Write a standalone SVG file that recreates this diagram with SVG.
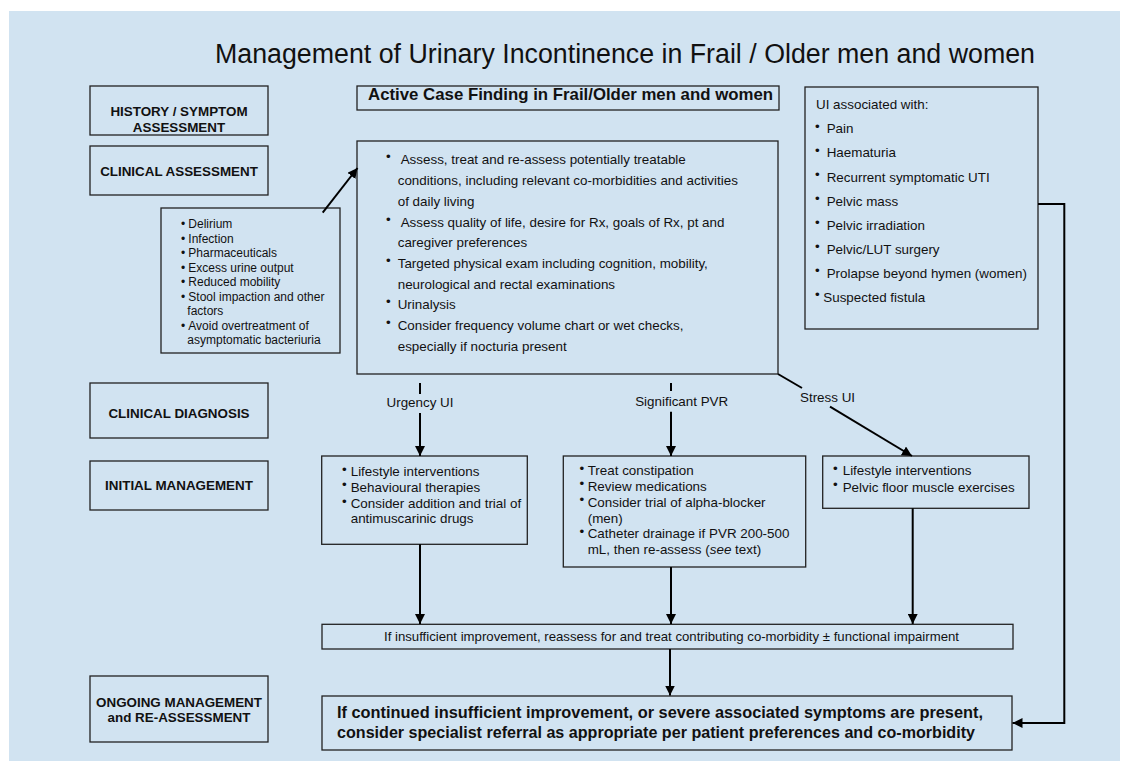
<svg xmlns="http://www.w3.org/2000/svg" width="1128" height="769" viewBox="0 0 1128 769">
  <defs>
    <marker id="ah" markerWidth="10" markerHeight="10" refX="10" refY="5" orient="auto" markerUnits="userSpaceOnUse">
      <path d="M0,0 L10,5 L0,10 z" fill="#000"/>
    </marker>
    <style>
      .box { fill: none; stroke: #222; stroke-width: 1.3; }
      .lbl { font-family: "Liberation Sans", Arial, sans-serif; font-weight: bold; font-size: 13.4px; fill: #111; text-anchor: middle; }
      .t { font-family: "Liberation Sans", Arial, sans-serif; font-size: 13.4px; fill: #111; }
      .s { font-size: 12px; }
      .b { font-weight: bold; }
      .conn { stroke: #000; stroke-width: 2; fill: none; }
    </style>
  </defs>

  <!-- background panel -->
  <rect x="9" y="11" width="1111" height="750" fill="#D1E3F1"/>

  <text class="t" x="625" y="63" text-anchor="middle" textLength="820" lengthAdjust="spacingAndGlyphs" style="font-size:26.8px">Management of Urinary Incontinence in Frail / Older men and women</text>

  <!-- stage labels -->
  <g id="stage-history">
    <rect class="box" x="90" y="86" width="178" height="49"/>
    <text class="lbl" x="179" y="116">HISTORY / SYMPTOM</text>
    <text class="lbl" x="179" y="131.5">ASSESSMENT</text>
  </g>
  <g id="stage-clinical-assessment">
    <rect class="box" x="90" y="146" width="178" height="49"/>
    <text class="lbl" x="179" y="175.5">CLINICAL ASSESSMENT</text>
  </g>
  <g id="stage-clinical-diagnosis">
    <rect class="box" x="90" y="383" width="178" height="55"/>
    <text class="lbl" x="179" y="418">CLINICAL DIAGNOSIS</text>
  </g>
  <g id="stage-initial-management">
    <rect class="box" x="90" y="461" width="178" height="49"/>
    <text class="lbl" x="179" y="490">INITIAL MANAGEMENT</text>
  </g>
  <g id="stage-ongoing">
    <rect class="box" x="90" y="676" width="178" height="66"/>
    <text class="lbl" x="179" y="706.5">ONGOING MANAGEMENT</text>
    <text class="lbl" x="179" y="721.5">and RE-ASSESSMENT</text>
  </g>

  <!-- case finding -->
  <g id="case-finding">
    <rect class="box" x="357" y="86" width="422" height="24"/>
    <text class="t b" x="368" y="100" style="font-size:16.5px" textLength="405" lengthAdjust="spacingAndGlyphs">Active Case Finding in Frail/Older men and women</text>
  </g>

  <!-- main assessment -->
  <g id="assessment">
    <rect class="box" x="357" y="141" width="421" height="233"/>
    <text class="t" x="386" y="161">•</text>
    <text class="t" x="400.7" y="164.3"> Assess, treat and re-assess potentially treatable</text>
    <text class="t" x="397.7" y="185">conditions, including relevant co-morbidities and activities</text>
    <text class="t" x="397.7" y="206">of daily living</text>
    <text class="t" x="386" y="223.5">•</text>
    <text class="t" x="400.7" y="226.7">Assess quality of life, desire for Rx, goals of Rx, pt and</text>
    <text class="t" x="397.7" y="247.3">caregiver preferences</text>
    <text class="t" x="386" y="264.5">•</text>
    <text class="t" x="397.7" y="267.7">Targeted physical exam including cognition, mobility,</text>
    <text class="t" x="397.7" y="288.7">neurological and rectal examinations</text>
    <text class="t" x="386" y="306">•</text>
    <text class="t" x="397.7" y="309.3">Urinalysis</text>
    <text class="t" x="386" y="327">•</text>
    <text class="t" x="397.7" y="330">Consider frequency volume chart or wet checks,</text>
    <text class="t" x="397.7" y="350.7">especially if nocturia present</text>
  </g>

  <!-- transient causes -->
  <g id="transient-causes">
    <rect class="box" x="161" y="208" width="179" height="145"/>
    <g class="t s">
      <text x="181" y="228.3">•</text><text x="188.3" y="228.3">Delirium</text>
      <text x="181" y="242.7">•</text><text x="188.3" y="242.7">Infection</text>
      <text x="181" y="257.3">•</text><text x="188.3" y="257.3">Pharmaceuticals</text>
      <text x="181" y="271.7">•</text><text x="188.3" y="271.7">Excess urine output</text>
      <text x="181" y="286">•</text><text x="188.3" y="286">Reduced mobility</text>
      <text x="181" y="300.7">•</text><text x="188.3" y="300.7">Stool impaction and other</text>
      <text x="187.3" y="315">factors</text>
      <text x="181" y="329.7">•</text><text x="188.3" y="329.7">Avoid overtreatment of</text>
      <text x="187.3" y="344">asymptomatic bacteriuria</text>
    </g>
  </g>

  <!-- red flags -->
  <g id="red-flags">
    <rect class="box" x="805" y="87" width="233" height="242"/>
    <text class="t" x="816" y="109.3">UI associated with:</text>
    <text class="t" x="815" y="131">•</text><text class="t" x="826.7" y="133.3">Pain</text>
    <text class="t" x="815" y="155">•</text><text class="t" x="826.7" y="157.3">Haematuria</text>
    <text class="t" x="815" y="179.4">•</text><text class="t" x="826.7" y="181.7">Recurrent symptomatic UTI</text>
    <text class="t" x="815" y="203.4">•</text><text class="t" x="826.7" y="205.7">Pelvic mass</text>
    <text class="t" x="815" y="227.4">•</text><text class="t" x="826.7" y="229.7">Pelvic irradiation</text>
    <text class="t" x="815" y="251.4">•</text><text class="t" x="826.7" y="253.7">Pelvic/LUT surgery</text>
    <text class="t" x="815" y="275.4">•</text><text class="t" x="826.7" y="277.7">Prolapse beyond hymen (women)</text>
    <text class="t" x="815" y="299.4">•</text><text class="t" x="823.3" y="301.7">Suspected fistula</text>
  </g>

  <!-- initial management boxes -->
  <g id="urgency-management">
    <rect class="box" x="321.7" y="456" width="205.6" height="88.3"/>
    <text class="t" x="342" y="473.5">•</text><text class="t" x="350.7" y="476">Lifestyle interventions</text>
    <text class="t" x="342" y="489.2">•</text><text class="t" x="350.7" y="491.7">Behavioural therapies</text>
    <text class="t" x="342" y="505.8">•</text><text class="t" x="350.7" y="508.3">Consider addition and trial of</text>
    <text class="t" x="350.7" y="523.3">antimuscarinic drugs</text>
  </g>
  <g id="pvr-management">
    <rect class="box" x="563.3" y="456" width="242.4" height="111"/>
    <text class="t" x="579.5" y="472.5">•</text><text class="t" x="587.7" y="475">Treat constipation</text>
    <text class="t" x="579.5" y="488.2">•</text><text class="t" x="587.7" y="490.7">Review medications</text>
    <text class="t" x="579.5" y="504.2">•</text><text class="t" x="587.7" y="506.7">Consider trial of alpha-blocker</text>
    <text class="t" x="587.7" y="522.7">(men)</text>
    <text class="t" x="579.5" y="535.8">•</text><text class="t" x="587.7" y="538.3">Catheter drainage if PVR 200-500</text>
    <text class="t" x="587.7" y="554">mL, then re-assess (<tspan font-style="italic">see</tspan> text)</text>
  </g>
  <g id="stress-management">
    <rect class="box" x="822.7" y="456" width="206.3" height="52.3"/>
    <text class="t" x="833" y="472.5">•</text><text class="t" x="842.7" y="475">Lifestyle interventions</text>
    <text class="t" x="833" y="489.2">•</text><text class="t" x="842.7" y="491.7">Pelvic floor muscle exercises</text>
  </g>

  <!-- reassessment -->
  <g id="reassess">
    <rect class="box" x="322" y="624.3" width="691" height="24.7"/>
    <text class="t" x="671.5" y="641" text-anchor="middle" style="font-size:13.2px">If insufficient improvement, reassess for and treat contributing co-morbidity ± functional impairment</text>
  </g>

  <!-- referral -->
  <g id="referral">
    <rect class="box" x="322" y="696" width="690" height="54"/>
    <text class="t b" x="337" y="718" style="font-size:16px" textLength="646" lengthAdjust="spacingAndGlyphs">If continued insufficient improvement, or severe associated symptoms are present,</text>
    <text class="t b" x="337" y="738" style="font-size:16px" textLength="638" lengthAdjust="spacingAndGlyphs">consider specialist referral as appropriate per patient preferences and co-morbidity</text>
  </g>

  <!-- connectors -->
  <g id="connectors">
    <line class="conn" x1="322.7" y1="212.7" x2="357.5" y2="168" marker-end="url(#ah)"/>

    <line class="conn" x1="420" y1="383" x2="420" y2="394"/>
    <line class="conn" x1="420" y1="413" x2="420" y2="456" marker-end="url(#ah)"/>
    <text class="t" x="420" y="406.5" text-anchor="middle">Urgency UI</text>

    <line class="conn" x1="671" y1="383" x2="671" y2="391"/>
    <line class="conn" x1="671" y1="411.7" x2="671" y2="456" marker-end="url(#ah)"/>
    <text class="t" x="681.7" y="406" text-anchor="middle">Significant PVR</text>

    <line class="conn" x1="778" y1="374" x2="802" y2="388"/>
    <line class="conn" x1="830" y1="406.7" x2="912" y2="456" marker-end="url(#ah)"/>
    <text class="t" x="800" y="401.5">Stress UI</text>

    <line class="conn" x1="420" y1="544.3" x2="420" y2="624" marker-end="url(#ah)"/>
    <line class="conn" x1="671" y1="567" x2="671" y2="624" marker-end="url(#ah)"/>
    <line class="conn" x1="912.7" y1="508.3" x2="912.7" y2="624" marker-end="url(#ah)"/>

    <line class="conn" x1="670" y1="649" x2="670" y2="695.5" marker-end="url(#ah)"/>

    <polyline class="conn" points="1038,204 1064.3,204 1064.3,723 1012.5,723" marker-end="url(#ah)"/>
  </g>
</svg>
